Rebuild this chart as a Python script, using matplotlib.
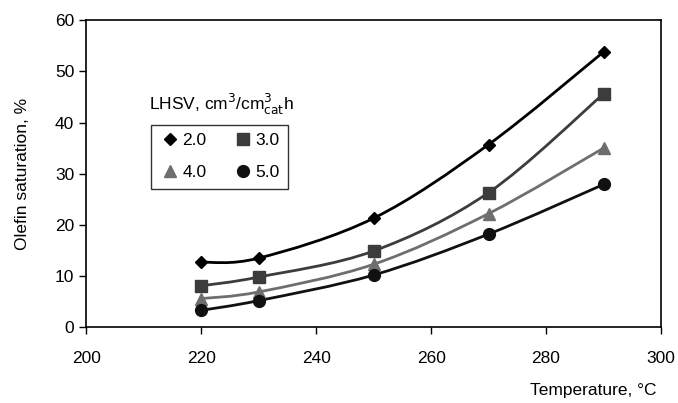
import numpy as np
import matplotlib.pyplot as plt
from matplotlib.path import Path
from matplotlib.patches import PathPatch
from matplotlib.lines import Line2D

plt.rcParams['font.family'] = ['Liberation Sans', 'DejaVu Sans']

temperature = [220, 230, 250, 270, 290]
lhsv_labels = ["2.0", "3.0", "4.0", "5.0"]
sat_20 = [12.7, 13.5, 21.3, 35.7, 53.8]
sat_30 = [8.1, 9.8, 14.9, 26.3, 45.6]
sat_40 = [5.6, 6.9, 12.3, 22.2, 35.0]
sat_50 = [3.3, 5.2, 10.2, 18.2, 27.9]

series = [sat_20, sat_30, sat_40, sat_50]
markers = ['D', 's', '^', 'o']
msizes = [6.5, 8.5, 8.5, 8.5]
colors = ['#000000', '#3c3c3c', '#6e6e6e', '#111111']


def smooth_path(x, y):
    # Excel-style smoothed line: cubic bezier through the points
    p = np.column_stack([x, y]).astype(float)
    verts = [p[0]]
    codes = [Path.MOVETO]
    n = len(p)
    for i in range(n - 1):
        p0 = p[i - 1] if i > 0 else p[i]
        p3 = p[i + 2] if i + 2 < n else p[i + 1]
        c1 = p[i] + (p[i + 1] - p0) / 6.0
        c2 = p[i + 1] - (p3 - p[i]) / 6.0
        verts += [c1, c2, p[i + 1]]
        codes += [Path.CURVE4] * 3
    return Path(verts, codes)


fig, ax = plt.subplots(figsize=(6.78, 4.03), dpi=100)
fig.subplots_adjust(left=0.127, right=0.975, top=0.95, bottom=0.188)

handles = []
for vals, m, ms, c, lab in zip(series, markers, msizes, colors, lhsv_labels):
    ax.add_patch(PathPatch(smooth_path(temperature, vals), facecolor='none',
                           edgecolor=c, lw=2, zorder=2))
    ax.plot(temperature, vals, linestyle='none', marker=m, ms=ms, color=c, zorder=3)
    handles.append(Line2D([], [], linestyle='none', marker=m, ms=ms, color=c, label=lab))

ax.set_xlim(200, 300)
ax.set_ylim(0, 60)
ax.set_xticks(np.arange(200, 301, 20))
ax.set_yticks(np.arange(0, 61, 10))
ax.tick_params(direction='out', length=5, width=1, labelsize=12.5, colors='black')
ax.tick_params(axis='x', pad=12)
for s in ax.spines.values():
    s.set_linewidth(1.2)

ax.set_ylabel("Olefin saturation, %", fontsize=12.5, labelpad=18)
fig.text(0.968, 0.012, "Temperature, °C", fontsize=12.5, ha='right', va='bottom')

ax.text(0.11, 0.685, r'LHSV, cm$^3$/cm$^3_{\rm cat}$h', transform=ax.transAxes,
        fontsize=12.5, ha='left', va='bottom')
# column-major fill: rows read 2.0 3.0 / 4.0 5.0
order = [0, 2, 1, 3]
leg = ax.legend(handles=[handles[i] for i in order], ncol=2, loc='upper left',
                bbox_to_anchor=(0.113, 0.66),
                fontsize=12.5, frameon=True, fancybox=False, edgecolor='black',
                handletextpad=0.1, columnspacing=1.5, borderpad=0.5, labelspacing=0.95,
                handlelength=1.2, borderaxespad=0)
leg.get_frame().set_linewidth(1.0)

plt.savefig("out.png", dpi=100, facecolor='white')
